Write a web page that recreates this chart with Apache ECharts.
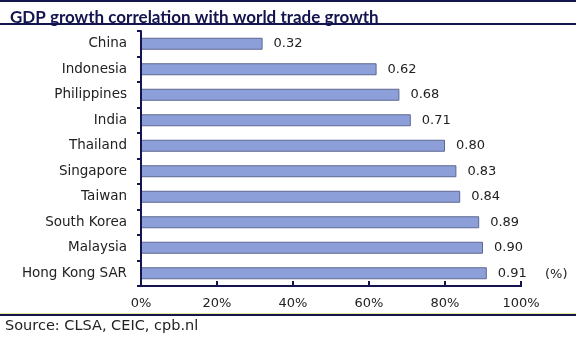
<!DOCTYPE html>
<html>
<head>
<meta charset="utf-8">
<script src="https://cdn.jsdelivr.net/npm/echarts@6/dist/echarts.min.js"></script>
<style>
  html, body { margin: 0; padding: 0; background: #fff; }
  #chart { width: 581px; height: 341px; }
</style>
</head>
<body>
<div id="chart"></div>
<script>
// Economies, listed top to bottom
const economies = ['China', 'Indonesia', 'Philippines', 'India', 'Thailand',
  'Singapore', 'Taiwan', 'South Korea', 'Malaysia', 'Hong Kong SAR'];
// Correlation of GDP growth with world trade growth
const correlation = [0.32, 0.62, 0.68, 0.71, 0.80, 0.83, 0.84, 0.89, 0.90, 0.91];
// X axis tick values
const xTicks = [0, 0.2, 0.4, 0.6, 0.8, 1.0];

const navy = '#14144f';
const titleFont = 'Lato, "Open Sans", sans-serif';
const font = '"DejaVu Sans", sans-serif';

const axisLineStyle = { color: navy, width: 2, type: 'solid', opacity: 1 };

// Header / footer rules and free text
const decorations = [
  { type: 'rect', shape: { x: 0, y: 0, width: 576, height: 2 }, style: { fill: navy } },
  { type: 'rect', shape: { x: 0, y: 23, width: 576, height: 2 }, style: { fill: navy } },
  { type: 'rect', shape: { x: 0, y: 313, width: 576, height: 1 }, style: { fill: '#e8e89a' } },
  { type: 'rect', shape: { x: 0, y: 314, width: 576, height: 2 }, style: { fill: navy } },
  { type: 'text', left: 5, top: 319,
    style: { text: 'Source: CLSA, CEIC, cpb.nl', fontFamily: font, fontSize: 14.5, fill: '#222' } },
  { type: 'text', left: 545, top: 268,
    style: { text: '(%)', fontFamily: font, fontSize: 13, fill: '#222' } }
];

const chart = echarts.init(document.getElementById('chart'), null, { renderer: 'canvas' });

chart.setOption({
  animation: false,
  backgroundColor: '#fff',
  title: {
    text: 'GDP growth correlation with world trade growth',
    left: 5, top: 4,
    textStyle: { fontFamily: titleFont, fontWeight: 'bold', fontSize: 17, color: navy }
  },
  graphic: decorations,
  grid: { left: 141, right: 60, top: 31, bottom: 55 },
  xAxis: {
    type: 'value',
    min: xTicks[0], max: xTicks[xTicks.length - 1], interval: 0.2,
    z: 5,
    axisLine: { show: true, onZero: false, lineStyle: axisLineStyle },
    axisTick: { show: true, inside: true, length: 5, lineStyle: axisLineStyle },
    splitLine: { show: false },
    axisLabel: {
      fontFamily: font, fontSize: 13, color: '#222', margin: 11,
      formatter: v => Math.round(v * 100) + '%'
    }
  },
  yAxis: {
    type: 'category',
    data: economies,
    inverse: true,
    z: 5,
    axisLine: { show: true, onZero: false, lineStyle: axisLineStyle },
    axisTick: { show: true, length: 4, lineStyle: axisLineStyle },
    axisLabel: { fontFamily: font, fontSize: 13.5, color: '#222', margin: 14 }
  },
  series: [{
    type: 'bar',
    data: correlation,
    barWidth: 12,
    itemStyle: { color: '#8d9fd8', borderColor: '#5d6890', borderWidth: 1 },
    label: {
      show: true, position: 'right', distance: 11,
      fontFamily: font, fontSize: 13, color: '#222',
      formatter: p => p.value.toFixed(2)
    }
  }]
});

// Axis spines, placed from the chart's own scales
const xStart = chart.convertToPixel({ xAxisIndex: 0 }, xTicks[0]);
const xEnd = chart.convertToPixel({ xAxisIndex: 0 }, xTicks[xTicks.length - 1]);
const firstCenter = chart.convertToPixel({ yAxisIndex: 0 }, 0);
const secondCenter = chart.convertToPixel({ yAxisIndex: 0 }, 1);
const lastCenter = chart.convertToPixel({ yAxisIndex: 0 }, economies.length - 1);
const halfBand = (secondCenter - firstCenter) / 2;
const yTop = firstCenter - halfBand;
const yBottom = lastCenter + halfBand;

chart.setOption({
  graphic: decorations.concat([
    { type: 'line', z: 50,
      shape: { x1: xStart, y1: yTop, x2: xStart, y2: yBottom + 1 },
      style: { stroke: navy, lineWidth: 2 } },
    { type: 'line', z: 50,
      shape: { x1: xStart - 1, y1: yBottom, x2: xEnd + 1, y2: yBottom },
      style: { stroke: navy, lineWidth: 2 } }
  ])
});
</script>
</body>
</html>
